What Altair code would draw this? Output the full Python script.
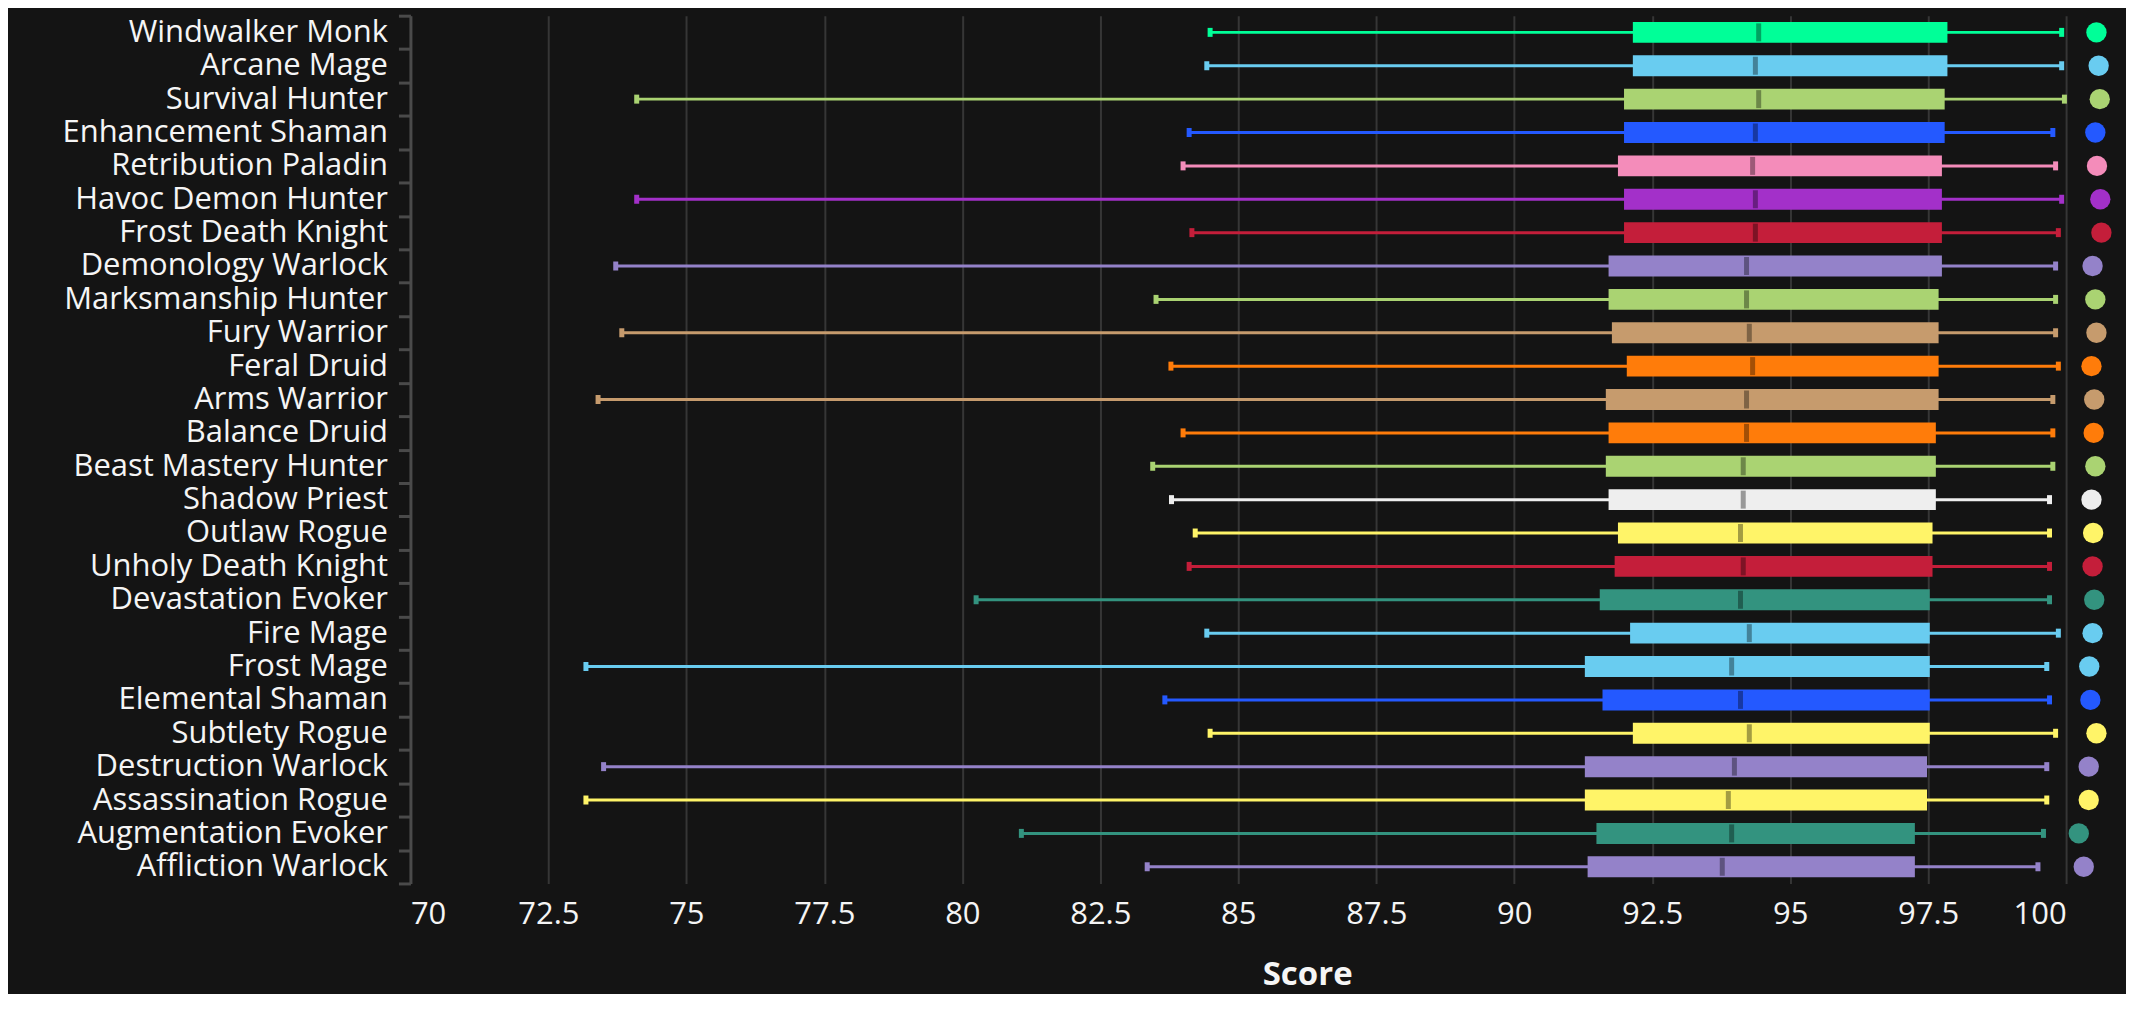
import altair as alt
import pandas as pd

classes = [
    "Windwalker Monk", "Arcane Mage", "Survival Hunter", "Enhancement Shaman",
    "Retribution Paladin", "Havoc Demon Hunter", "Frost Death Knight",
    "Demonology Warlock", "Marksmanship Hunter", "Fury Warrior", "Feral Druid",
    "Arms Warrior", "Balance Druid", "Beast Mastery Hunter", "Shadow Priest",
    "Outlaw Rogue", "Unholy Death Knight", "Devastation Evoker", "Fire Mage",
    "Frost Mage", "Elemental Shaman", "Subtlety Rogue", "Destruction Warlock",
    "Assassination Rogue", "Augmentation Evoker", "Affliction Warlock",
]
low = [84.49, 84.43, 74.10, 84.11, 84.00, 74.10, 84.16, 73.72, 83.51, 73.83,
       83.78, 73.40, 84.00, 83.45, 83.79, 84.22, 84.11, 80.25, 84.43, 73.18,
       83.67, 84.49, 73.50, 73.18, 81.07, 83.35]
q1 = [92.15, 92.15, 91.99, 91.99, 91.88, 91.99, 91.99, 91.71, 91.71, 91.77,
      92.04, 91.66, 91.71, 91.66, 91.71, 91.88, 91.82, 91.55, 92.10, 91.28,
      91.60, 92.15, 91.28, 91.28, 91.49, 91.33]
median = [94.43, 94.37, 94.43, 94.37, 94.32, 94.37, 94.37, 94.21, 94.21, 94.26,
          94.32, 94.21, 94.21, 94.15, 94.15, 94.10, 94.15, 94.10, 94.26, 93.94,
          94.10, 94.26, 93.99, 93.88, 93.94, 93.77]
q3 = [97.85, 97.85, 97.80, 97.80, 97.75, 97.75, 97.75, 97.75, 97.69, 97.69,
      97.69, 97.69, 97.64, 97.64, 97.64, 97.58, 97.58, 97.53, 97.53, 97.53,
      97.53, 97.53, 97.48, 97.48, 97.26, 97.26]
high = [99.92, 99.92, 99.97, 99.76, 99.81, 99.92, 99.86, 99.81, 99.81, 99.81,
        99.86, 99.76, 99.76, 99.76, 99.70, 99.70, 99.70, 99.70, 99.86, 99.65,
        99.70, 99.81, 99.65, 99.65, 99.59, 99.49]
dot = [100.55, 100.59, 100.61, 100.53, 100.56, 100.62, 100.64, 100.48, 100.53, 100.55,
       100.46, 100.51, 100.50, 100.53, 100.46, 100.49, 100.48, 100.51, 100.48, 100.42,
       100.44, 100.55, 100.41, 100.41, 100.23, 100.32]
colors = [
    "#00FF98", "#69CCF0", "#AAD372", "#2459FF", "#F48CBA", "#A330C9", "#C41E3A",
    "#9482C9", "#AAD372", "#C69B6D", "#FF7C0A", "#C69B6D", "#FF7C0A", "#AAD372",
    "#EEEEEE", "#FFF468", "#C41E3A", "#33937F", "#69CCF0", "#69CCF0", "#2459FF",
    "#FFF468", "#9482C9", "#FFF468", "#33937F", "#9482C9",
]
x_ticks = [70, 72.5, 75, 77.5, 80, 82.5, 85, 87.5, 90, 92.5, 95, 97.5, 100]


def darker(hex_color, f=0.64):
    h = hex_color.lstrip("#")
    r, g, b = (int(h[i:i + 2], 16) for i in (0, 2, 4))
    return "#%02x%02x%02x" % (int(r * f), int(g * f), int(b * f))


df = pd.DataFrame({
    "cls": classes, "low": low, "q1": q1, "median": median, "q3": q3,
    "high": high, "dot": dot, "color": colors,
    "dark": [darker(c) for c in colors],
})

FONT = "Open Sans"
TXT = "#F5F5F5"

xscale = alt.Scale(domain=[70, 100], nice=False, zero=False)
yenc = alt.Y(
    "cls:N", sort=classes, title=None,
    scale=alt.Scale(paddingInner=0, paddingOuter=0),
    axis=alt.Axis(
        tickBand="extent", grid=False, labelFont=FONT, labelFontSize=31,
        labelColor=TXT, labelPadding=11, tickSize=12, tickWidth=3,
        tickColor="#4a4a4a", domainColor="#4a4a4a", domainWidth=3,
        labelLimit=600,
    ),
)
xaxis = alt.Axis(
    values=x_ticks, labelExpr="format(datum.value, '~g')", grid=True,
    gridColor="#363636", gridWidth=2,
    ticks=False, domain=False, labelFont=FONT, labelFontSize=31,
    labelColor=TXT, labelPadding=16, title="Score", titleFont=FONT,
    titleFontSize=33, titleFontWeight="bold", titleColor=TXT,
    titleX=898, titleY=101, titleBaseline="alphabetic", titleAlign="center",
)

base = alt.Chart(df)

whisker = base.mark_rule(strokeWidth=3).encode(
    x=alt.X("low:Q", scale=xscale, axis=xaxis),
    x2="high:Q",
    y=yenc,
    color=alt.Color("color:N", scale=None),
)
cap_lo = base.mark_tick(thickness=5, size=9, opacity=1).encode(
    x=alt.X("low:Q", scale=xscale), y=alt.Y("cls:N", sort=classes),
    color=alt.Color("color:N", scale=None),
)
cap_hi = base.mark_tick(thickness=5, size=9, opacity=1).encode(
    x=alt.X("high:Q", scale=xscale), y=alt.Y("cls:N", sort=classes),
    color=alt.Color("color:N", scale=None),
)
box = base.mark_bar(size=21).encode(
    x=alt.X("q1:Q", scale=xscale), x2="q3:Q", y=alt.Y("cls:N", sort=classes),
    color=alt.Color("color:N", scale=None),
)
med = base.mark_tick(thickness=5, size=18, opacity=1).encode(
    x=alt.X("median:Q", scale=xscale), y=alt.Y("cls:N", sort=classes),
    color=alt.Color("dark:N", scale=None),
)
dots = base.mark_circle(size=415, opacity=1).encode(
    x=alt.X("dot:Q", scale=xscale), y=alt.Y("cls:N", sort=classes),
    color=alt.Color("color:N", scale=None),
)

chart = alt.layer(whisker, cap_lo, cap_hi, box, med, dots).properties(
    width=1658, height=869,
    autosize=alt.AutoSizeParams(type="none"),
    padding={"left": 403, "top": 7, "right": 60, "bottom": 110},
    background="#141414",
).configure_view(stroke=None)

chart.save("out.html", embed_options={"renderer": "svg", "actions": False})
